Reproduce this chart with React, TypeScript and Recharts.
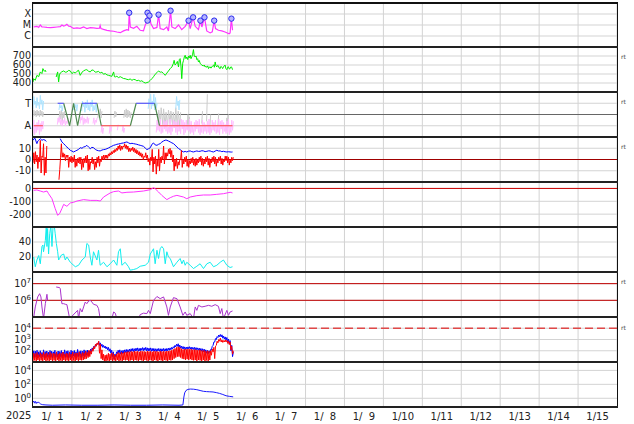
import React from 'react';
import { LineChart, Line, XAxis, YAxis, CartesianGrid, ReferenceLine } from 'recharts';

type P = [number, number | null];
type B = [number, number | null, number | null];

// ---------- axis ticks / labels ----------
const dayTicks = [24, 48, 72, 96, 120, 144, 168, 192, 216, 240, 264, 288, 312, 336];
const labelTicks = [12, 36, 60, 84, 108, 132, 156, 180, 204, 228, 252, 276, 300, 324, 348];
const dayLabels = ['1/\u20071', '1/\u20072', '1/\u20073', '1/\u20074', '1/\u20075', '1/\u20076', '1/\u20077', '1/\u20078', '1/\u20079', '1/10', '1/11', '1/12', '1/13', '1/14', '1/15'];
const yearLabel = '2025';
const xrayClass: Record<string, string> = { '0.000001': 'C', '0.00001': 'M', '0.0001': 'X' };

// ---------- data (time in hours from 2025-01-01 00:00) ----------
const xray: P[] = [[0.4,6.6e-6],[1.4,7.2e-6],[2.4,7.6e-6],[3.5,6.0e-6],[4.5,1.0e-5],[5.5,6.8e-6],[6.5,6.6e-6],[8.6,6.0e-6],[10.7,5.7e-6],[12.7,6.2e-6],[14.8,6.6e-6],[16.8,7.0e-6],[17.8,1.0e-5],[18.9,8.1e-6],[19.9,9.0e-6],[20.9,1.15e-5],[22.0,8.0e-6],[23.0,7.6e-6],[24.0,6.0e-6],[25.0,5.0e-6],[27.1,5.4e-6],[29.1,5.0e-6],[31.2,6.6e-6],[32.2,5.6e-6],[33.2,4.7e-6],[35.3,5.8e-6],[37.3,5.4e-6],[39.4,5.0e-6],[41.0,5.2e-6],[41.4,8.7e-6],[41.9,4.7e-6],[43.5,4.0e-6],[45.6,3.3e-6],[47.6,2.9e-6],[49.7,2.7e-6],[51.7,2.3e-6],[53.8,2.0e-6],[55.8,2.9e-6],[57.9,3.8e-6],[58.9,3.4e-6],[59.3,1.3e-4],[60.0,6.6e-6],[62.0,5.0e-6],[64.0,7.6e-6],[66.1,3.3e-6],[68.1,2.9e-6],[69.2,1.0e-5],[70.2,1.9e-5],[70.6,1.3e-4],[71.2,2.7e-5],[71.8,7.1e-5],[72.7,1.3e-5],[74.3,4.7e-6],[76.4,6.0e-6],[77.4,8.7e-5],[78.4,4.7e-6],[80.5,3.8e-6],[82.5,6.6e-6],[83.5,2.9e-6],[84.8,2.0e-4],[85.6,6.6e-6],[87.6,4.7e-6],[89.7,1.0e-5],[91.7,3.8e-6],[93.8,7.6e-6],[95.9,2.5e-5],[96.9,4.7e-6],[98.7,5.0e-5],[100.0,7.6e-6],[102.0,3.8e-6],[103.2,2.5e-5],[104.1,6.6e-6],[105.7,5.0e-5],[107.1,2.9e-6],[109.2,1.9e-6],[110.5,2.4e-6],[111.7,2.5e-5],[112.5,4.7e-6],[114.3,3.3e-6],[116.4,2.9e-6],[118.4,2.3e-6],[120.9,1.6e-6],[121.5,1.9e-6],[122.3,3.8e-5],[123.0,3.3e-6]];
const flares: P[] = [[59.3,1.3e-4],[70.6,1.3e-4],[71.8,7.1e-5],[70.6,2.5e-5],[77.4,8.7e-5],[84.8,2.0e-4],[95.9,2.5e-5],[98.7,5.0e-5],[103.2,2.5e-5],[105.7,5.0e-5],[111.7,2.5e-5],[122.3,3.8e-5]];

const speed: P[] = [[0,411],[0.4,448],[1.4,430],[2.4,485],[3.5,470],[4.5,523],[5.5,505],[6.1,560],[7.0,530],[7.6,541],[8.0,523],[8.5,null],[14.3,467],[14.8,500],[15.2,523],[15.8,412],[16.3,490],[16.8,511],[17.8,525],[18.9,534],[19.9,520],[20.9,523],[22.0,540],[23.0,534],[24.0,504],[25.0,520],[26.1,511],[27.1,530],[28.1,541],[29.1,485],[30.2,520],[31.2,534],[32.2,545],[33.2,548],[34.3,530],[35.3,523],[36.3,545],[37.3,541],[38.4,520],[39.4,523],[40.4,530],[41.4,511],[42.5,520],[43.5,497],[44.5,505],[45.6,490],[46.6,485],[47.6,480],[48.6,474],[49.7,523],[50.2,470],[50.7,467],[51.7,475],[52.7,460],[53.8,470],[54.8,460],[55.8,450],[56.8,448],[57.9,440],[58.9,437],[59.9,445],[61.0,430],[62.0,440],[63.0,437],[64.0,425],[65.1,430],[66.1,419],[67.1,425],[68.1,410],[69.2,400],[70.2,405],[71.2,411],[72.3,430],[73.3,448],[74.3,470],[75.3,497],[76.4,515],[77.4,534],[78.4,520],[79.4,523],[80.5,505],[81.5,485],[82.5,510],[83.5,534],[84.6,560],[85.6,578],[86.6,620],[87.0,652],[87.6,600],[88.3,615],[89.0,640],[89.7,578],[90.2,660],[90.7,671],[91.2,590],[91.7,448],[92.3,620],[92.8,652],[93.3,690],[93.8,708],[94.3,670],[94.8,689],[95.4,660],[95.9,700],[96.4,680],[96.9,708],[97.4,670],[97.9,690],[98.4,720],[98.9,771],[99.4,700],[100.0,689],[100.5,700],[101.0,660],[101.5,670],[102.0,634],[102.5,650],[103.0,620],[103.5,610],[104.1,597],[105.1,590],[105.6,600],[106.1,578],[106.6,585],[107.2,575],[107.7,590],[108.2,560],[108.7,575],[109.2,580],[109.7,565],[110.2,578],[110.7,590],[111.3,600],[111.8,575],[112.3,634],[112.8,590],[113.3,578],[113.8,595],[114.3,590],[114.8,565],[115.4,560],[115.9,585],[116.4,575],[116.9,560],[117.4,578],[117.9,590],[118.4,600],[118.9,560],[119.5,548],[120.0,575],[120.5,580],[121.0,555],[121.5,560],[122.0,580],[122.5,575],[123.0,548]];

// sector: +1 = T (toward), -1 = A (away)
const sectorToward: P[] = [[15.2,1],[18.9,1],[19.0,null],[30.2,1],[39.4,1],[39.5,null],[63.6,1],[74.9,1]];
const sectorAway: P[] = [[0.4,-1],[6.1,-1],[6.2,null],[42.1,-1],[60.0,-1],[60.1,null],[78.0,-1],[123.0,-1]];
const sectorChange: P[] = [[18.9,1],[22.6,-1],[25.0,1],[27.5,-1],[30.2,1],[30.3,null],[39.4,1],[42.1,-1],[42.2,null],[60.0,-1],[63.6,1],[63.7,null],[74.9,1],[78.0,-1]];
const phiToward: B[] = [[0,0.5,1.6],[1,0.9,1.2],[2,0.6,1.5],[3,0.8,1.1],[4,0.5,1.7],[5,0.9,1.3],[6,0.4,1.2],[6.8,null,null],[16,0.4,0.9],[17,0.6,0.8],[18,0.3,0.8],[18.8,null,null],[25,0.4,1.0],[26,0.6,0.9],[27,0.3,0.9],[27.8,null,null],[30,0.3,1.2],[31,0.7,1.0],[32,0.2,1.1],[33,0.6,1.3],[34,0.4,0.9],[35,0.3,1.1],[36,0.7,1.3],[37,0.3,0.8],[38,0.4,1.0],[39,0.2,0.9],[39.8,null,null],[71,0.5,1.4],[72,0.9,1.8],[73,0.5,1.2],[74,0.8,1.8],[75,0.4,1.5],[76,0.6,1.0],[76.8,null,null],[88,0.5,1.6],[89,0.8,1.2],[90,0.4,1.3]];
const phiMixed: B[] = [[0,-0.2,0.4],[1,-0.1,0.3],[2,-0.2,0.4],[3,-0.1,0.3],[4,-0.2,0.4],[5,-0.1,0.3],[6,-0.2,0.2],[6.8,null,null],[16,-0.5,0.3],[17,-0.4,0.4],[18,-0.6,0.2],[19,-0.3,0.3],[19.8,null,null],[40,-0.3,0.4],[41,-0.2,0.5],[42,-0.3,0.3],[42.8,null,null],[50,-0.3,0.3],[51,-0.2,0.2],[51.8,null,null],[56,-0.3,0.4],[57,-0.2,0.5],[58,-0.3,0.4],[59,-0.2,0.3],[60,-0.3,0.2],[60.8,null,null],[77,-1.0,0.4],[78.5,-0.8,0.6],[80,-0.9,0.5],[81.5,-1.1,0.2],[83,-1.0,0.4],[84.5,-0.8,0.3],[86,-0.9,0.2],[87.5,-1.0,0.6],[89,-1.1,0.3],[90.5,-1.0,0.2],[91.5,null,null],[95,-1.3,0.0],[96,-1.5,-0.2],[96.8,null,null],[104,-0.8,0.3],[104.8,null,null],[107,-0.6,1.8],[107.8,null,null],[109,-1.2,0.0],[109.8,null,null],[114,-1.0,0.1],[114.8,null,null],[119,-1.5,-0.3],[120,-1.2,0.0]];
const phiAway: B[] = [[0,-1.7,-0.5],[1,-1.8,-0.9],[2,-1.6,-0.7],[3,-1.4,-0.5],[4,-1.8,-0.8],[5,-1.5,-0.6],[6,-1.3,-0.6],[6.8,null,null],[15,-0.9,-0.3],[16,-0.7,-0.2],[17,-0.9,-0.4],[18,-1.0,-0.5],[19,-0.8,-0.3],[20,-1.0,-0.6],[21,-0.8,-0.3],[21.8,null,null],[29,-0.8,-0.2],[30,-0.5,-0.1],[31,-0.9,-0.3],[32,-0.8,-0.4],[33,-0.7,-0.2],[34,-0.8,-0.3],[34.8,null,null],[37,-0.8,-0.3],[38,-0.9,-0.5],[39,-0.7,-0.3],[39.8,null,null],[42,-1.6,-0.9],[43,-1.7,-1.2],[43.8,null,null],[47,-1.7,-1.0],[48,-1.5,-1.1],[48.8,null,null],[52,-1.4,-0.9],[52.8,null,null],[55,-1.5,-1.0],[56,-1.6,-1.2],[56.8,null,null],[76,-1.6,-0.5],[77,-1.4,-0.8],[78,-1.5,-0.4],[79,-1.7,-1.0],[80,-1.6,-0.5],[81,-1.3,-0.6],[82,-1.5,-0.5],[83,-1.7,-1.1],[84,-1.6,-0.4],[85,-1.8,-0.9],[86,-1.5,-0.5],[87,-1.2,-0.6],[88,-1.6,-0.7],[89,-1.8,-0.5],[90,-1.5,-1.0],[91,-1.7,-0.4],[92,-1.3,-0.5],[93,-1.8,-0.7],[94,-1.6,-0.5],[95,-1.4,-0.9],[96,-1.5,-0.4],[97,-1.7,-0.6],[98,-1.6,-1.0],[99,-1.8,-0.7],[100,-1.5,-0.5],[101,-1.3,-0.6],[102,-1.6,-0.4],[103,-1.8,-1.0],[104,-1.6,-0.5],[105,-1.7,-0.7],[106,-1.5,-0.9],[107,-1.7,-0.6],[108,-1.6,-0.4],[109,-1.8,-1.1],[110,-1.6,-0.5],[111,-1.4,-0.7],[112,-1.5,-0.5],[113,-1.7,-1.0],[114,-1.6,-0.4],[115,-1.8,-0.6],[116,-1.3,-0.5],[117,-1.7,-0.7],[118,-1.5,-0.9],[119,-1.7,-0.6],[120,-1.6,-0.4],[121,-1.8,-1.0],[122,-1.6,-0.5],[123,-1.4,-0.6]];

const bt: P[] = [[0,17.1],[0.7,18.6],[1.4,18.5],[2.0,15.5],[2.4,14.1],[3.0,16.5],[3.5,17.1],[4.5,18.5],[5.5,17.1],[6.5,17.7],[7.6,17.1],[8.2,16.0],[8.5,null],[16.8,18.5],[17.8,15.6],[18.9,14.1],[19.9,12.5],[20.9,11.1],[22.0,9.5],[23.0,8.2],[24.0,7.5],[25.0,6.7],[26.1,7.5],[27.1,8.2],[28.1,9.0],[29.1,10.5],[30.2,10.0],[31.2,11.1],[32.2,11.5],[33.2,12.6],[34.3,11.0],[35.3,9.6],[36.3,10.8],[37.3,10.5],[38.4,9.0],[39.4,8.2],[40.4,7.8],[41.4,7.6],[42.5,8.4],[43.5,8.8],[44.5,9.0],[45.6,9.6],[46.6,10.3],[47.6,11.1],[48.6,11.8],[49.7,12.6],[50.7,13.0],[51.7,13.5],[52.7,13.8],[53.8,14.1],[54.8,14.5],[55.8,14.7],[56.8,15.2],[57.9,15.6],[58.9,14.8],[59.9,14.1],[61.0,14.4],[62.0,14.1],[63.0,13.8],[64.0,13.5],[65.1,13.0],[66.1,12.6],[67.1,12.2],[68.1,11.7],[69.2,10.2],[70.2,8.8],[71.2,9.5],[72.3,10.5],[73.3,13.5],[74.3,14.7],[75.3,13.0],[76.4,12.6],[77.4,13.5],[78.4,14.1],[79.4,15.5],[80.5,16.5],[81.5,17.2],[82.5,17.1],[83.5,16.4],[84.6,15.6],[85.6,14.8],[86.6,14.1],[87.6,12.8],[88.7,11.1],[89.7,9.8],[90.7,8.8],[91.8,7.5],[92.8,6.7],[93.8,7.2],[94.8,6.7],[95.9,7.4],[96.9,7.6],[97.9,7.0],[98.9,6.7],[100.0,7.2],[101.0,7.6],[102.0,7.2],[103.0,7.3],[104.1,7.8],[105.1,7.6],[106.1,7.0],[107.2,7.3],[108.2,7.7],[109.2,7.6],[110.2,7.0],[111.3,6.7],[112.3,7.5],[113.3,8.2],[114.3,7.6],[115.4,7.6],[116.4,7.0],[117.4,7.3],[118.4,6.9],[119.5,6.7],[120.5,6.9],[121.5,6.7],[122.5,6.6],[123.0,6.7]];
const bz: B[] = [[0,-3,6],[1,-4,7],[2,-2,4],[3,-8,2],[4,-2,17],[5,-12,3],[6,2,14],[7,-14,2],[8,-12,12],[8.6,null,null],[16,-18,-9],[17,2,14],[18,2,6],[19,2,5],[20,-1,4],[21,2,4],[22,-7,2],[23,-2,3],[24,-3,2],[25,-2,4],[26,-7,0],[27,-6,1],[28,-3,2],[29,-4,2],[30,-9,0],[31,-7,1],[32,-3,3],[33,-3,4],[34,-10,0],[35,-9,-2],[36,-3,2],[37,-4,0],[38,-9,-2],[39,-7,2],[40,-3,3],[41,-6,0],[42,-2,3],[43,0,4],[44,0,4],[45,1,4],[46,1,5],[47,3,6],[48,4,7],[49,5,8],[50,6,9],[51,7,10],[52,8,12],[53,9,13],[54,8,12],[55,9,12],[56,11,14],[57,10,13],[58,9,12],[59,7,10],[60,7,10],[61,8,11],[62,7,10],[63,6,9],[64,5,8],[65,4,7],[66,3,6],[67,2,5],[68,0,3],[69,2,6],[70,1,4],[71,-2,1],[72,-5,2],[73,-1,9],[74,-11,2],[75,-4,3],[76,-13,0],[77,-6,9],[78,-10,2],[79,-3,3],[80,0,12],[81,-4,6],[82,0,6],[83,3,9],[84,5,10],[85,2,8],[86,-2,4],[87,-10,0],[88,-6,1],[89,-8,-2],[90,-5,0],[91,0,8],[92,-7,0],[93,-4,2],[94,-2,3],[95,-6,0],[96,-7,-1],[97,-4,1],[98,-3,2],[99,-5,0],[100,-6,1],[101,-5,0],[102,-3,2],[103,-2,3],[104,-5,1],[105,-6,0],[106,-4,2],[107,-2,3],[108,-5,1],[109,-7,0],[110,-3,2],[111,-2,3],[112,-4,2],[113,-6,0],[114,-3,2],[115,-1,3],[116,-4,1],[117,-5,0],[118,-2,3],[119,-1,3],[120,-3,2],[121,-5,0],[122,-3,2],[123,-1,2]];

const dst: P[] = [[0.4,-15],[2.4,-12],[4.5,-20],[6.5,-28],[8.6,-20],[9.6,-41],[11.7,-80],[13.7,-157],[15.2,-209],[16.4,-196],[17.8,-157],[18.9,-124],[20.9,-139],[23.0,-113],[25.0,-108],[27.1,-98],[31.2,-87],[35.3,-93],[39.4,-93],[41.5,-98],[43.5,-67],[47.6,-35],[49.7,-25],[52.7,-20],[54.8,-35],[57.9,-30],[62.0,-28],[68.1,-20],[72.3,-10],[74.3,6],[75.3,-2],[77.4,-28],[79.4,-54],[82.5,-87],[84.6,-72],[86.6,-61],[88.7,-54],[92.8,-67],[94.8,-80],[96.9,-67],[101.0,-56],[105.1,-51],[109.2,-51],[113.3,-46],[117.4,-41],[121.5,-30],[123.0,-35]];

const cyanSeries: P[] = [[0.4,20],[1.4,7],[2.4,16],[3.5,22],[4.5,11],[5.5,34],[6.1,36],[6.5,27],[7.6,42],[8.2,62],[8.6,34],[9.0,58],[9.6,24],[10.3,51],[11.0,62],[11.7,34],[12.3,58],[13.1,62],[13.7,51],[14.4,38],[15.2,27],[15.8,16],[16.4,18],[17.2,22],[18.9,24],[19.9,16],[20.9,20],[23.0,13],[24.0,11],[26.1,7],[28.1,9],[30.2,16],[32.2,20],[33.2,38],[34.3,36],[35.3,20],[36.3,9],[37.3,27],[39.4,16],[40.4,29],[41.4,9],[43.5,13],[45.6,7],[47.6,11],[49.7,16],[51.7,9],[52.7,27],[53.8,31],[54.8,9],[56.8,13],[58.9,7],[59.9,2.4],[62.0,3.3],[64.0,4.6],[66.1,7.7],[69.2,9],[71.2,13],[72.3,24],[74.3,31],[75.3,11],[76.4,29],[77.4,18],[78.4,31],[79.4,34],[80.5,31],[81.5,11],[82.5,27],[83.5,20],[84.6,18],[86.6,7],[88.7,13],[90.7,18],[91.8,11],[92.8,16],[93.8,9],[94.8,13],[96.9,9],[98.9,4.6],[101.0,7.7],[103.0,11],[105.1,4.6],[107.2,11],[109.2,13],[111.3,7],[113.3,9],[115.4,13],[117.4,16],[119.5,9],[121.5,6],[123.0,7]];

const electrons: P[] = [[0.4,9e4],[1.4,4e5],[2.9,1.6e6],[4.1,2.5e6],[4.9,1.6e6],[5.5,4e5],[6.5,8e4],[7.6,6.3e5],[8.6,2.3e6],[9.0,1.0e6],[9.2,null],[14.3,6.3e6],[16.4,5.8e6],[16.8,5e6],[17.8,6.3e5],[18.9,6.3e5],[19.9,5.8e5],[20.9,5.5e5],[22.6,8e4],[27.5,2.5e5],[28.1,8e4],[29.1,3.2e5],[30.2,2e5],[31.2,4e5],[32.2,7.9e5],[33.2,6.3e5],[34.3,9.1e5],[35.3,1e6],[36.3,7.9e5],[37.3,5.8e5],[39.4,5e5],[40.4,3.2e5],[41.4,8e4],[48.6,8e4],[49.7,2e5],[50.7,1.7e5],[51.7,8e4],[65.1,8e4],[66.1,1.4e5],[68.1,1.7e5],[70.2,1.6e5],[71.2,2.5e5],[72.3,1.6e5],[73.3,4e5],[74.3,1e6],[76.4,1.7e6],[78.4,1.26e6],[80.5,1.6e6],[82.5,4e5],[83.5,1.26e5],[84.6,4e5],[86.6,1.45e6],[88.7,1.26e6],[90.7,4e5],[92.4,1.26e5],[93.8,2e5],[94.8,1.26e5],[96.9,1.6e5],[98.9,8e4],[100.0,4e5],[101.0,2.5e5],[102.0,5e5],[104.1,4e5],[106.1,4.4e5],[108.2,5e5],[110.2,4.4e5],[112.3,5.5e5],[114.3,4.4e5],[115.4,1.6e5],[116.4,3.2e5],[117.4,8e4],[119.5,2.5e5],[120.5,1.26e5],[121.5,2e5],[123.0,2.3e5]];

const protonBlue: B[] = [[0,30,100],[1,25,90],[2,28,110],[3,22,80],[4,30,100],[5,25,70],[6,28,120],[7,22,85],[8,25,95],[9,30,75],[10,25,105],[11,28,90],[12,22,80],[13,35,110],[14,25,70],[15,28,95],[16,20,85],[17,30,105],[18,25,75],[19,35,120],[20,25,90],[21,30,100],[22,22,80],[23,28,110],[24,25,90],[25,35,105],[26,28,80],[27,30,130],[28,30,85],[29,40,100],[30,25,90],[31,35,120],[32,30,100],[33,40,115],[34,35,95],[35,50,140],[36,80,180],[37,120,250],[38,200,320],[39,300,450],[40,400,650],[41,300,500],[42,250,380],[43,200,300],[44,180,260],[45,150,220],[46,120,200],[47,90,150],[48,60,110],[49,30,80],[50,18,50],[51,30,80],[52,55,110],[53,60,120],[54,50,100],[55,55,110],[56,60,120],[57,70,130],[58,65,125],[59,75,140],[60,80,150],[61,90,160],[62,85,150],[63,95,170],[64,100,180],[65,90,160],[66,95,170],[67,110,190],[68,100,180],[69,110,200],[70,100,180],[71,95,170],[72,100,180],[73,90,160],[74,95,160],[75,90,150],[76,85,150],[77,95,160],[78,90,150],[79,85,150],[80,95,160],[81,90,150],[82,95,160],[83,100,170],[84,110,180],[85,120,200],[86,140,230],[87,180,300],[88,220,380],[89,250,420],[90,200,320],[91,170,260],[92,150,240],[93,140,220],[94,130,210],[95,140,220],[96,150,230],[97,140,210],[98,130,200],[99,130,200],[100,120,190],[101,120,180],[102,110,170],[103,100,160],[104,90,150],[105,80,140],[106,70,120],[107,60,110],[108,55,100],[109,70,130],[110,120,250],[111,300,600],[112,600,1200],[113,1000,1800],[114,1500,2500],[115,1800,2800],[116,1700,2600],[117,1300,2000],[118,1100,1700],[119,900,1500],[120,600,1100],[121,400,800],[122,100,300],[123,30,80]];
const protonRed: B[] = [[0,12,60],[1,14,55],[2,12,70],[3,15,45],[4,12,65],[5,14,50],[6,12,80],[7,15,55],[8,12,65],[9,14,45],[10,12,75],[11,15,55],[12,12,60],[13,14,55],[14,12,80],[15,15,50],[16,12,65],[17,14,55],[18,12,78],[19,15,50],[20,12,60],[21,14,55],[22,12,70],[23,15,50],[24,12,78],[25,14,55],[26,12,65],[27,15,60],[28,12,80],[29,15,55],[30,14,70],[31,15,65],[32,18,90],[33,20,70],[34,25,110],[35,30,100],[36,50,150],[37,90,230],[38,150,380],[39,250,480],[40,350,700],[41,60,400],[42,20,120],[43,15,50],[44,12,40],[45,12,45],[46,14,60],[47,12,50],[48,15,65],[49,12,55],[50,14,40],[51,12,50],[52,15,70],[53,12,60],[54,14,75],[55,12,65],[56,15,80],[57,14,75],[58,15,85],[59,12,80],[60,14,90],[61,15,80],[62,12,95],[63,15,85],[64,14,90],[65,12,80],[66,15,95],[67,14,85],[68,12,90],[69,15,80],[70,14,95],[71,12,85],[72,15,90],[73,14,80],[74,12,95],[75,15,85],[76,14,90],[77,12,80],[78,15,95],[79,14,85],[80,12,90],[81,15,85],[82,14,95],[83,12,90],[84,15,100],[85,14,110],[86,15,130],[87,20,160],[88,25,200],[89,30,230],[90,30,200],[91,25,150],[92,20,130],[93,18,140],[94,15,130],[95,18,140],[96,15,130],[97,18,140],[98,15,120],[99,14,130],[100,15,120],[101,12,110],[102,15,120],[103,14,110],[104,12,100],[105,15,110],[106,12,90],[107,14,100],[108,12,90],[109,15,100],[110,40,140],[111,80,200],[112,20,260],[113,300,700],[114,500,1000],[115,700,1300],[116,600,900],[117,550,800],[118,600,900],[119,600,850],[120,450,750],[121,350,600],[122,120,250],[123,50,100]];

const neutron: P[] = [[0,0.25],[0.5,0.4],[1,0.2],[1.5,0.35],[2,0.18],[2.5,0.3],[3,0.22],[3.5,0.28],[4,0.2],[4.5,0.16],[5,0.14],[6,0.12],[8,0.11],[12,0.1],[20,0.11],[30,0.1],[40,0.1],[50,0.11],[60,0.1],[70,0.1],[80,0.11],[90,0.1],[92.4,0.11],[93.0,1.5],[93.5,6],[94.3,13],[95.5,19],[97,21],[99,20],[101,17],[103,13],[105,10],[107,9],[109,8.5],[111,8],[113,6.5],[115,5],[117,3.5],[119,2.3],[121,1.9],[123.4,1.6]];

// ---------- helpers ----------
const pts = (p: P[]) => p.map(([t, v]) => ({ t, v }));
const zig = (b: B[]) => b.flatMap(([t, lo, hi]) => (lo === null ? [{ t, v: null }] : [{ t, v: lo }, { t: t + 0.5, v: hi }]));

const W = 634;
const RIGHT = 17;
const TXT = '#222';
const GRID = '#d3d3d3';
const FS = 9.6;

const PowTick = (props: any) => {
  const { x, y, payload } = props;
  const e = Math.round(Math.log10(payload.value));
  return (
    <text x={x} y={y} dy={3.5} textAnchor="end" fontSize={FS} fill={TXT}>
      <tspan>10</tspan>
      <tspan dy={-4} fontSize={7}>{e}</tspan>
    </text>
  );
};

const line = (key: string, data: any[], color: string, w = 1) => (
  <Line key={key} data={data} dataKey="v" type="linear" stroke={color} strokeWidth={w} dot={false} activeDot={false} isAnimationActive={false} connectNulls={false} />
);

function Panel(props: any) {
  const { top, h, axis, domain, scale, ticks, fmt, pow, children } = props;
  return (
    <div style={{ position: 'absolute', left: 0, top }}>
      <LineChart width={W} height={h + (axis ? 17 : 0)} margin={{ top: 0, right: RIGHT, bottom: 0, left: 0 }}>
        <CartesianGrid stroke={GRID} strokeWidth={1} vertical={!axis} />
        {axis ? (
          <XAxis type="number" dataKey="t" domain={[0, 360]} ticks={labelTicks} interval={0} height={17} allowDataOverflow
            axisLine={false} tickLine={false} tickSize={0} tickMargin={6}
            tick={{ fill: TXT, fontSize: 10 }}
            tickFormatter={(v: number) => dayLabels[labelTicks.indexOf(v)]} />
        ) : (
          <XAxis type="number" dataKey="t" domain={[0, 360]} ticks={dayTicks} hide allowDataOverflow />
        )}
        <YAxis type="number" domain={domain} scale={scale || 'linear'} ticks={ticks} interval={0} width={33}
          axisLine={false} tickLine={false} tickSize={0} tickMargin={2} allowDataOverflow
          tick={pow ? (p: any) => <PowTick {...p} /> : { fill: TXT, fontSize: FS }}
          tickFormatter={fmt} />
        {axis ? dayTicks.map((d) => <ReferenceLine key={'g' + d} x={d} stroke={GRID} strokeWidth={1} />) : null}
        {children}
      </LineChart>
    </div>
  );
}

export default function App() {
  const seps = [0, 1, 2, 3, 4, 5, 6, 7, 8];
  const rt = [56.7, 101.7, 146.7, 281.7, 328.3];
  return (
    <div style={{ position: 'fixed', left: 0, top: 0, width: W, height: 424, background: '#fff', fontFamily: '"DejaVu Sans", Verdana, sans-serif', overflow: 'hidden' }}>
      <Panel top={3} h={44} domain={[1e-7, 1e-3]} scale="log" ticks={[1e-6, 1e-5, 1e-4]} fmt={(v: number) => xrayClass[String(v)] || ''}>
        {line('xray', pts(xray), '#ff33ff', 1.2)}
        <Line key="flares" data={pts(flares)} dataKey="v" stroke="none" isAnimationActive={false} activeDot={false}
          dot={{ r: 2.7, fill: '#b4b4ff', stroke: '#2a2aee', strokeWidth: 1 }} />
      </Panel>
      <Panel top={47} h={45} domain={[300, 800]} ticks={[400, 500, 600, 700]}>
        {line('speed', pts(speed), '#00ee00', 1)}
      </Panel>
      <Panel top={92} h={45} domain={[-2, 2]} ticks={[-1, 1]} fmt={(v: number) => (v > 0 ? 'T' : 'A')}>
        <ReferenceLine y={0} stroke="#666" strokeWidth={1} />
        {line('mix', zig(phiMixed), '#cccccc', 1)}
        {line('away', zig(phiAway), '#ffbcff', 1)}
        {line('tow', zig(phiToward), '#aee4ff', 1)}
        {line('chg', pts(sectorChange), '#4f8a4f', 1.2)}
        {line('sT', pts(sectorToward), '#4040ff', 1.2)}
        {line('sA', pts(sectorAway), '#ff4040', 1.2)}
      </Panel>
      <Panel top={137} h={45} domain={[-20, 20]} ticks={[-10, 0, 10]} fmt={(v: number) => (v < 0 ? '-' + Math.abs(v) : String(v))}>
        <ReferenceLine y={0} stroke="#a00000" strokeWidth={1} />
        {line('bt', pts(bt), '#0000ff', 1)}
        {line('bz', zig(bz), '#ff0000', 1)}
      </Panel>
      <Panel top={182} h={45} domain={[-300, 50]} ticks={[-200, -100, 0]} fmt={(v: number) => (v < 0 ? '-' + Math.abs(v) : String(v))}>
        <ReferenceLine y={0} stroke="#cc0000" strokeWidth={1} />
        {line('dst', pts(dst), '#ff33ff', 1)}
      </Panel>
      <Panel top={227} h={45} domain={[0, 60]} ticks={[20, 40]}>
        {line('cy', pts(cyanSeries), '#11eeee', 1)}
      </Panel>
      <Panel top={272} h={45} domain={[1e5, 5e7]} scale="log" ticks={[1e6, 1e7]} pow>
        <ReferenceLine y={1e6} stroke="#c00000" strokeWidth={1} />
        <ReferenceLine y={1e7} stroke="#c00000" strokeWidth={1} />
        {line('el', pts(electrons), '#aa33cc', 1)}
      </Panel>
      <Panel top={317} h={45} domain={[10, 1e5]} scale="log" ticks={[1e2, 1e3, 1e4]} pow>
        <ReferenceLine y={1e4} stroke="#e04848" strokeWidth={1.5} strokeDasharray="8 4" />
        {line('pb', zig(protonBlue), '#0000ff', 1)}
        {line('pr', zig(protonRed), '#ff0000', 1)}
      </Panel>
      <Panel top={362} h={45} axis domain={[0.056, 1.6e5]} scale="log" ticks={[1, 1e2, 1e4]} pow>
        {line('nb', pts(neutron), '#1a1aff', 1)}
      </Panel>

      {/* frame */}
      <div style={{ position: 'absolute', left: 32, top: 2, width: 1, height: 406, background: '#111' }} />
      <div style={{ position: 'absolute', left: 617, top: 2, width: 1, height: 406, background: '#111' }} />
      <div style={{ position: 'absolute', left: 32, top: 2, width: 586, height: 1.5, background: '#111' }} />
      {seps.map((k) => (
        <div key={k} style={{ position: 'absolute', left: 32, top: 46 + 45 * k, width: 586, height: 2, background: '#222' }} />
      ))}
      <div style={{ position: 'absolute', left: 6, top: 410, fontSize: 10, lineHeight: '12px', color: TXT }}>{yearLabel}</div>
      {rt.map((y, i) => (
        <div key={i} style={{ position: 'absolute', left: 621, top: y - 4, fontSize: 6, lineHeight: '8px', color: '#444' }}>rt</div>
      ))}
    </div>
  );
}
